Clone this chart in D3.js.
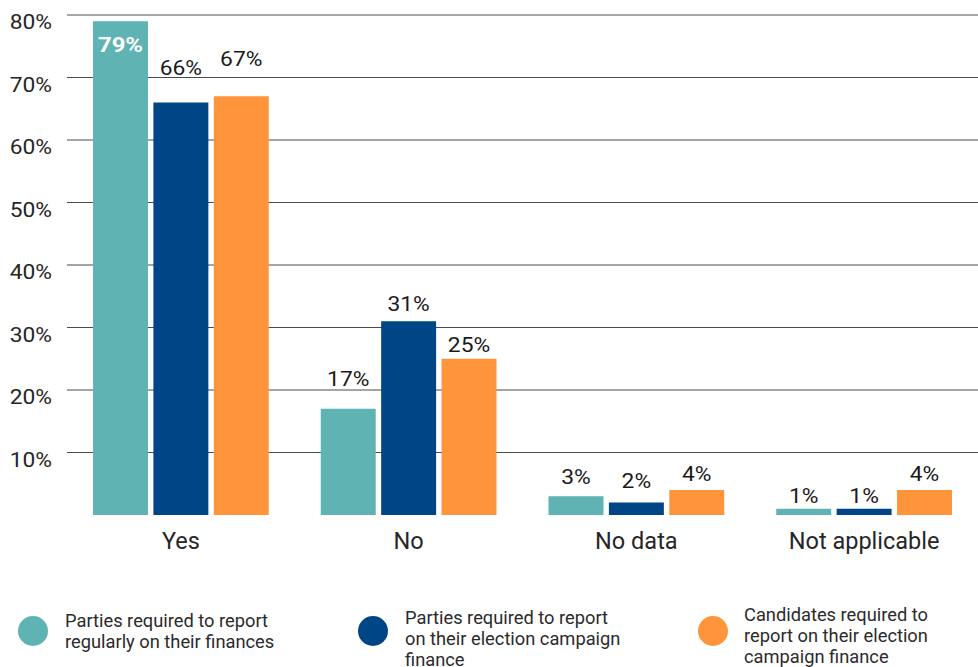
<!DOCTYPE html>
<html>
<head>
<meta charset="utf-8">
<script src="https://cdn.jsdelivr.net/npm/d3@7"></script>
<style>
  body { margin: 0; background: #fff; }
  svg { display: block; font-family: Roboto, "Noto Sans", sans-serif; }
</style>
</head>
<body>
<svg id="chart" width="978" height="667"></svg>
<script>
// Categories and series
const categories = ["Yes", "No", "No data", "Not applicable"];
const seriesNames = [
  "Parties required to report regularly on their finances",
  "Parties required to report on their election campaign finance",
  "Candidates required to report on their election campaign finance"
];
const legendLines = [
  ["Parties required to report", "regularly on their finances"],
  ["Parties required to report", "on their election campaign", "finance"],
  ["Candidates required to", "report on their election", "campaign finance"]
];
const partiesRegular = [79, 17, 3, 1];
const partiesCampaign = [66, 31, 2, 1];
const candidatesCampaign = [67, 25, 4, 4];
const yTicks = [10, 20, 30, 40, 50, 60, 70, 80];
const colors = ["#5fb3b3", "#004687", "#ff943a"];

const seriesValues = [partiesRegular, partiesCampaign, candidatesCampaign];

// Label lift above each bar top (px), per category then series
const labelLift = [[0, 28, 30], [23, 10, 7], [12, 15, 9], [6, 6, 9]];
const wide = 1.14; // horizontal stretch of chart numerals

const svg = d3.select("#chart");
const margin = { left: 67, right: 0, top: 15, bottom: 152 };
const W = 978, H = 667;

const x0 = d3.scaleBand().domain(categories).range([margin.left, W - margin.right]).padding(0);
const x1 = d3.scaleBand().domain(d3.range(3)).range([26, x0.bandwidth() - 26]).paddingInner(0.09);
const y = d3.scaleLinear().domain([0, 80]).range([H - margin.bottom, margin.top]);

// Horizontal gridlines
svg.append("g").selectAll("line").data(yTicks).join("line")
  .attr("x1", margin.left).attr("x2", W)
  .attr("y1", d => y(d)).attr("y2", d => y(d))
  .attr("stroke", d => d === 80 ? "#8a8a8a" : "#4a4a4a")
  .attr("stroke-width", d => d === 80 ? 1.6 : 1);

// Y tick labels (sit just below their gridline)
svg.append("g").selectAll("text").data(yTicks).join("text")
  .attr("transform", d => `translate(52,${y(d) + 14}) scale(${wide},1)`)
  .attr("text-anchor", "end")
  .attr("font-size", 20).attr("fill", "#262626")
  .text(d => d + "%");

// Bars
const groups = svg.append("g").selectAll("g").data(categories).join("g")
  .attr("transform", c => `translate(${x0(c)},0)`);

groups.each(function (c, ci) {
  const g = d3.select(this);
  seriesValues.forEach((vals, si) => {
    const v = vals[ci];
    g.append("rect")
      .attr("x", x1(si)).attr("width", x1.bandwidth())
      .attr("y", y(v)).attr("height", y(0) - y(v))
      .attr("fill", colors[si]);
    const inside = v > 75;
    const ty = inside ? y(v) + 31 : y(v) - labelLift[ci][si];
    g.append("text")
      .attr("transform", `translate(${x1(si) + x1.bandwidth() / 2},${ty}) scale(${wide},1)`)
      .attr("text-anchor", "middle")
      .attr("font-size", inside ? 21 : 20)
      .attr("font-weight", inside ? "bold" : "normal")
      .attr("fill", inside ? "#fff" : "#1a1a1a")
      .text(v + "%");
  });
});

// Category labels
svg.append("g").selectAll("text").data(categories).join("text")
  .attr("x", c => x0(c) + x0.bandwidth() / 2)
  .attr("y", 549)
  .attr("text-anchor", "middle")
  .attr("font-size", 23.5).attr("fill", "#262626")
  .text(c => c);

// Legend
const legendX = [33, 373, 713];
const legendTextX = [65, 405, 744];
const legendFirstBaseline = [627, 624, 621];
const legend = svg.append("g").selectAll("g").data(seriesNames).join("g");
legend.append("circle")
  .attr("cx", (d, i) => legendX[i]).attr("cy", 631)
  .attr("r", 15).attr("fill", (d, i) => colors[i]);
legend.append("text")
  .attr("font-size", 18.3).attr("fill", "#2b2b2b")
  .each(function (d, i) {
    d3.select(this).selectAll("tspan").data(legendLines[i]).join("tspan")
      .attr("x", legendTextX[i])
      .attr("y", (l, k) => legendFirstBaseline[i] + k * 21)
      .text(l => l);
  });
</script>
</body>
</html>
